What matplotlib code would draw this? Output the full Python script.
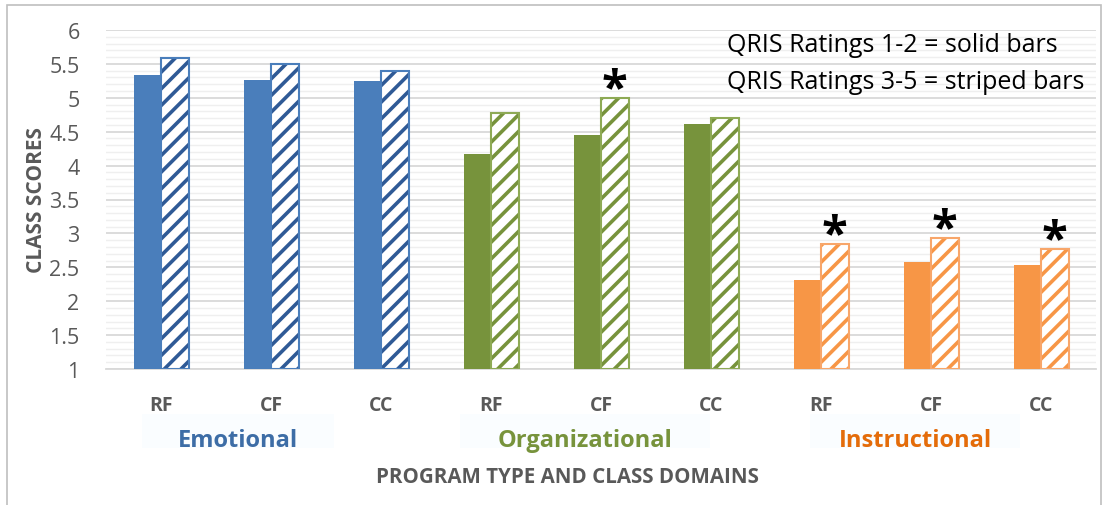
import matplotlib
matplotlib.use("Agg")
import matplotlib.pyplot as plt
from matplotlib.patches import Rectangle
from matplotlib.ticker import MultipleLocator, FuncFormatter
import numpy as np

plt.rcParams['font.family'] = ['Open Sans', 'DejaVu Sans']
plt.rcParams['hatch.linewidth'] = 2.6

programs = ["RF", "CF", "CC", "RF", "CF", "CC", "RF", "CF", "CC"]
domains = ["Emotional", "Organizational", "Instructional"]
solid_vals = [5.34, 5.26, 5.25, 4.17, 4.45, 4.61, 2.31, 2.58, 2.53]
striped_vals = [5.59, 5.50, 5.40, 4.78, 4.99, 4.70, 2.84, 2.93, 2.77]
significant = [False, False, False, False, True, False, True, True, True]
legend_lines = ["QRIS Ratings 1-2 = solid bars", "QRIS Ratings 3-5 = striped bars"]

solid_colors = ["#4A7EBB"] * 3 + ["#77933C"] * 3 + ["#F79646"] * 3
stripe_colors = ["#2F5A96"] * 3 + ["#77933C"] * 3 + ["#F79646"] * 3
edge_colors = ["#4A7EBB"] * 3 + ["#8EAA55"] * 3 + ["#F8A66A"] * 3
domain_colors = ["#3D6DA6", "#77933C", "#E46C0A"]

fig = plt.figure(figsize=(11.08, 5.06), dpi=100)
ax = fig.add_axes([106/1108, 1-370/506, 990/1108, 339/506])

x = np.arange(len(programs))
w = 0.25
ax.bar(x - w/2, np.array(solid_vals) - 1, w, bottom=1, color=solid_colors, zorder=3, linewidth=0)
ax.bar(x + w/2, np.array(striped_vals) - 1, w, bottom=1, color="white",
       edgecolor=stripe_colors, hatch="//", linewidth=0, zorder=3)
ax.bar(x + w/2, np.array(striped_vals) - 1, w, bottom=1, fill=False,
       edgecolor=edge_colors, linewidth=1.5, zorder=4)

for xi, v, s in zip(x, striped_vals, significant):
    if s:
        ax.annotate("*", xy=(xi + w/2, v), xytext=(0, -3), textcoords="offset points",
                    ha="center", va="baseline", fontsize=34, fontweight="bold",
                    color="black", zorder=5, annotation_clip=False)

ax.set_xlim(-0.5, len(programs) - 0.5)
ax.set_ylim(1, 6)
ax.yaxis.set_major_locator(MultipleLocator(0.5))
ax.yaxis.set_minor_locator(MultipleLocator(0.1))
ax.yaxis.set_major_formatter(FuncFormatter(lambda v, p: f"{v:g}"))
ax.grid(axis="y", which="major", color="#D9D9D9", linewidth=1.3, zorder=0)
ax.grid(axis="y", which="minor", color="#EFEFEF", linewidth=1.0, zorder=0)
ax.set_axisbelow(True)
ax.tick_params(axis="y", which="both", length=0, pad=19, labelsize=15.5, labelcolor="#595959")
ax.tick_params(axis="x", length=0, pad=19, labelsize=14, labelcolor="#595959")
ax.set_xticks(x)
ax.set_xticklabels(programs, fontweight="bold")
for sp in ["left", "right", "top"]:
    ax.spines[sp].set_visible(False)
ax.spines["bottom"].set_color("#D9D9D9")
ax.spines["bottom"].set_linewidth(1.3)

ax.set_ylabel("CLASS SCORES", fontsize=15, fontweight="bold", color="#595959", labelpad=2)

# domain labels with faint background boxes
dom_x = [238, 585, 915]
box_w = [192, 250, 210]
for name, c, px, bw in zip(domains, domain_colors, dom_x, box_w):
    fig.patches.append(Rectangle(((px - bw/2)/1108, 1-449/506), bw/1108, 34/506,
                                 transform=fig.transFigure, facecolor="#FAFDFF",
                                 edgecolor="none", zorder=0))
    fig.text(px/1108, 1-441/506, name, ha="center", va="center", fontsize=17,
             fontweight="bold", color=c)

fig.text(567/1108, 1-478/506, "PROGRAM TYPE AND CLASS DOMAINS", ha="center", va="center",
         fontsize=14.8, fontweight="bold", color="#595959")

for i, line in enumerate(legend_lines):
    fig.text(727/1108, 1-(46 + 37*i)/506, line, ha="left", va="center", fontsize=18, color="black")

fig.patches.append(Rectangle((7/1108, -0.05), 1094/1108, 1.05 - 6/506, transform=fig.transFigure,
                             fill=False, edgecolor="#BFBFBF", linewidth=1.2))

fig.savefig("out.png", dpi=100)
